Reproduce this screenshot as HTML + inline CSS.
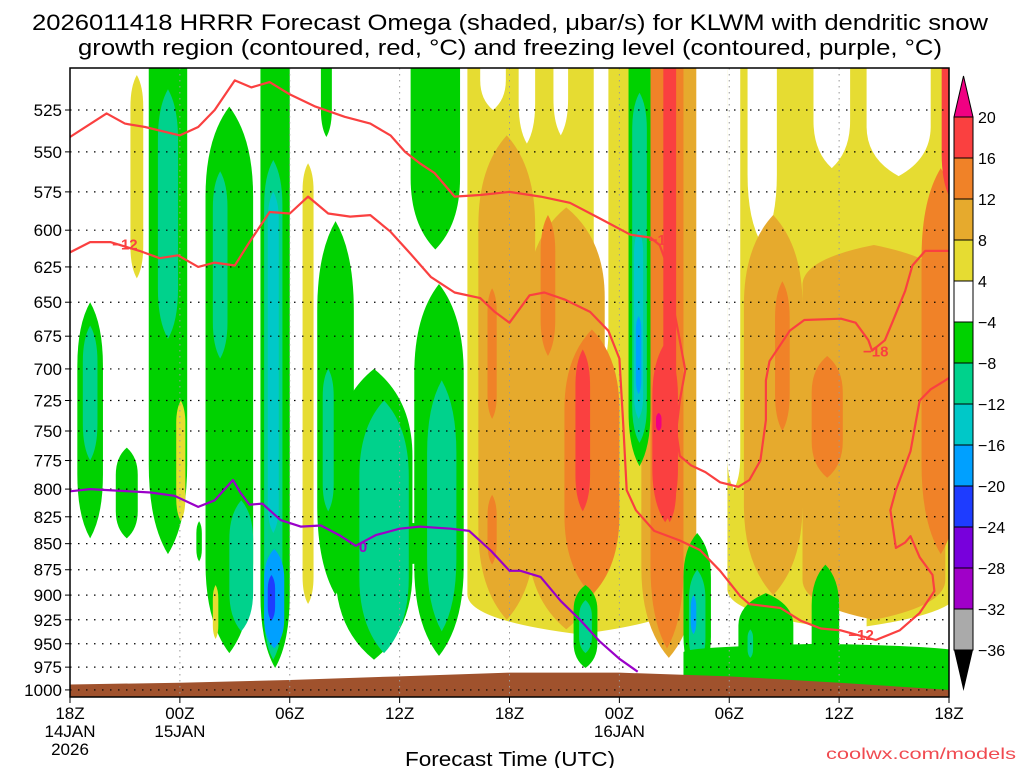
<!DOCTYPE html>
<html><head><meta charset="utf-8">
<style>
html,body{margin:0;padding:0;background:#fff;}
svg{display:block;font-family:"Liberation Sans",sans-serif;}
</style></head>
<body>
<svg id="chart" width="1024" height="768" viewBox="0 0 1024 768" xmlns="http://www.w3.org/2000/svg">
<defs><clipPath id="plotclip"><rect x="70" y="68" width="879" height="629"/></clipPath></defs>
<text x="32" y="30" font-size="22" textLength="956" lengthAdjust="spacingAndGlyphs">2026011418 HRRR Forecast Omega (shaded, μbar/s) for KLWM with dendritic snow</text>
<text x="78" y="55" font-size="22" textLength="864" lengthAdjust="spacingAndGlyphs">growth region (contoured, red, °C) and freezing level (contoured, purple, °C)</text>
<g id="plot" clip-path="url(#plotclip)"></g>
<g id="overlay"></g>
<g id="cbar"></g>
<text x="510" y="766" font-size="20" text-anchor="middle" textLength="210" lengthAdjust="spacingAndGlyphs">Forecast Time (UTC)</text>
<text x="826" y="759" font-size="16" fill="#f04a50" textLength="190" lengthAdjust="spacingAndGlyphs">coolwx.com/models</text>
</svg>
<script>
// ---- data ----
const pressureLevels = [525,550,575,600,625,650,675,700,725,750,775,800,825,850,875,900,925,950,975,1000];
const timeTickHours = [0,6,12,18,24,30,36,42,48];
const timeTickLabels = [["18Z","14JAN","2026"],["00Z","15JAN"],["06Z"],["12Z"],["18Z"],["00Z","16JAN"],["06Z"],["12Z"],["18Z"]];
const cbarLabels = ["20","16","12","8","4","\u22124","\u22128","\u221212","\u221216","\u221220","\u221224","\u221228","\u221232","\u221236"];
const cbarColors = ["#fa4040","#f08228","#e6aa2d","#e6dc32","#ffffff","#00d200","#00d28c","#00c8c8","#00a0ff","#1e3cff","#7800dc","#a000c8","#aaaaaa"];
const levelColor = {y:"#e6dc32",o:"#e6aa2d",O:"#f08228",r:"#fa4040",m:"#f00082",g:"#00d200",t:"#00d28c",c:"#00c8c8",l:"#00a0ff",b:"#1e3cff",w:"#ffffff"};
// omega regions: [hourStart, hourEnd, pressureTop, pressureBottom, level]
const omegaRegions = [
 [21.7,33.9,470,940,'y'],[22.4,23.8,470,525,'w'],[24.5,25.4,470,545,'w'],[26.4,27.2,470,540,'w'],[28.6,29.4,470,700,'w'],
 [35.9,48.6,470,935,'y'],[35.9,36.6,470,800,'w'],[37.0,38.6,470,610,'w'],[40.6,42.6,470,560,'w'],[43.5,47.0,470,565,'w'],[42.0,43.5,840,1010,'w'],[44.7,45.5,690,730,'w'],
 [22.3,25.4,540,925,'o'],[25.0,29.2,585,935,'o'],
 [22.8,23.3,640,740,'O'],[22.8,23.3,805,870,'O'],[25.7,26.5,590,690,'O'],[27.0,30.0,670,900,'O'],
 [27.6,28.4,685,820,'r'],
 [31.2,34.2,470,965,'o'],[31.7,33.5,470,955,'O'],[32.4,33.1,470,830,'r'],[31.8,33.2,680,830,'r'],[32.0,32.3,735,750,'m'],
 [36.8,40.0,590,900,'o'],[40.0,47.8,610,925,'o'],
 [38.5,39.3,635,750,'O'],[40.5,42.2,690,790,'O'],[46.5,48.6,560,860,'O'],[47.6,48.6,470,580,'r'],
 [0.4,1.8,650,845,'g'],[0.7,1.5,667,775,'t'],
 [2.5,3.7,764,845,'g'],
 [3.3,4.0,505,633,'y'],
 [4.3,6.4,470,860,'g'],[4.8,5.9,513,677,'t'],
 [5.8,6.3,725,829,'y'],
 [7.4,10.0,523,960,'g'],[7.8,8.6,562,692,'t'],[8.7,10.0,810,937,'t'],
 [6.9,7.2,829,867,'g'],[7.8,8.1,890,945,'y'],
 [10.4,12.0,470,976,'g'],[10.6,11.6,555,967,'t'],[10.8,11.4,575,840,'c'],[10.6,11.7,855,955,'l'],[10.8,11.2,880,926,'b'],
 [12.7,13.3,557,909,'y'],
 [13.7,14.3,470,541,'g'],
 [13.5,15.5,594,900,'g'],[14.5,18.7,700,967,'g'],[13.7,14.7,800,870,'g'],
 [18.8,21.5,637,963,'g'],[14.5,21.0,830,870,'g'],
 [13.8,14.4,700,820,'t'],[15.8,18.5,725,960,'t'],[19.5,21.1,709,937,'t'],
 [18.6,21.3,470,613,'g'],
 [30.5,31.7,470,780,'g'],[30.7,31.5,515,760,'t'],[30.8,31.3,600,740,'c'],[30.9,31.2,660,720,'l'],
 [27.5,28.8,890,976,'g'],[27.8,28.5,905,960,'t'],
 [33.5,35.0,840,990,'g'],[33.8,34.7,875,975,'t'],[33.9,34.2,900,940,'l'],
 [33.5,48.6,950,1012,'g'],[36.5,39.5,898,1012,'g'],[40.5,42.0,870,1012,'g'],[37.0,37.3,935,965,'t']
];
const groundHours = [0,6,12,18,24,30,36,42,48];
const groundPressure = [994,992,989,985,981,981,985,992,1000];
const dgzUpperHours = [0,2.0,3.0,4.1,6.0,7.0,7.9,9.0,9.9,10.9,12.0,13.4,15.0,16.4,17.5,18.3,19.1,19.9,21.0,22.4,24.0,25.7,27.3,28.9,30.6,31.7,32.2,32.7,32.9,33.2,33.6,33.3,33.1,33.3,33.9,34.7,35.5,36.5,37.1,37.7,38.0,38.0,38.2,39.3,40.1,42.1,42.9,43.6,43.8,44.5,44.9,45.6,46.0,46.7,47.8,48];
const dgzUpperTemp = [541,527,533,535,540,535,525,508,512,509,516,523,529,533,540,550,557,563,578,577,575,578,582,592,603,605,610,627,650,671,701,725,750,771,779,785,794,798,792,775,741,709,694,671,663,662,665,678,686,678,665,642,624,614,614,614];
const dgzLowerHours = [0,1.1,2.2,3.8,4.9,5.9,7.0,7.9,9.0,9.8,10.9,12.0,13.0,14.1,15.3,16.4,17.5,18.6,19.7,21.0,22.4,23.2,24.0,24.6,25.1,25.9,27.0,28.4,29.4,30.0,30.2,30.4,30.9,31.9,33.3,34.4,35.5,36.6,37.1,38.8,39.9,41.0,42.1,44.0,45.3,46.4,47.2,47.1,46.4,45.9,45.6,45.1,44.8,45.1,45.9,46.4,47.0,47.8,48];
const dgzLowerTemp = [615,608,608,614,619,617,625,622,624,608,588,589,578,589,591,590,601,616,632,643,647,657,665,654,645,643,648,657,671,692,741,801,819,838,847,856,876,901,909,913,926,934,936,946,936,918,896,880,863,843,849,854,819,801,767,725,716,709,707];
const frzHours = [0,1.1,4.4,5.7,7.0,7.9,8.9,9.3,9.8,10.5,10.9,11.5,12.6,13.7,14.7,15.6,16.7,18.0,19.1,20.8,21.8,23.0,24.0,24.6,25.7,26.8,27.9,28.9,30.0,31.0];
const frzPressure = [802,800,803,806,816,810,792,803,814,813,819,828,834,833,842,852,842,836,834,836,838,857,876,876,882,906,926,947,966,980];
const contourLabels = [["\u221212",3.0,609,"#fa4040"],["\u221218",32.3,606,"#fa4040"],["\u221218",44.0,686,"#fa4040"],["\u221212",43.2,940,"#fa4040"],["0",16.0,852,"#a000c8"]];

// ---- axes ----
const X0=70, X1=949, PX=(X1-X0)/48;
const xs = h => X0 + h*PX;
const ys = p => 110 + 900*Math.log(p/525);
const NS="http://www.w3.org/2000/svg";
function mk(tag, attrs, parent){const e=document.createElementNS(NS,tag);for(const k in attrs)e.setAttribute(k,attrs[k]);parent.appendChild(e);return e;}
const plot=document.getElementById('plot'), ov=document.getElementById('overlay'), cb=document.getElementById('cbar');

omegaRegions.forEach(r=>{
  const x0=xs(r[0]), x1=xs(r[1]), y0=ys(r[2]), y1=ys(r[3]);
  const w=x1-x0, h=y1-y0, cx=(x0+x1)/2;
  const t = (w > 100) ? Math.min(h*0.15, 40) : Math.min(h*0.3, w*2.5, 90);
  const topFlat = r[2] <= 480;
  let d;
  if (topFlat) d=`M${x0},${y0} L${x1},${y0}`;
  else d=`M${cx},${y0} Q${x1},${y0+t*0.35} ${x1},${y0+t}`;
  d+=` L${x1},${y1-t} Q${x1},${y1-t*0.35} ${cx},${y1} Q${x0},${y1-t*0.35} ${x0},${y1-t}`;
  if (topFlat) d+=' Z';
  else d+=` L${x0},${y0+t} Q${x0},${y0+t*0.35} ${cx},${y0} Z`;
  const el=mk('path',{d:d,fill:levelColor[r[4]]},plot);
  
  
});
// ground
let gd='M'+xs(0)+','+ys(1010);
groundHours.forEach((h,i)=>{gd+=' L'+xs(h)+','+ys(groundPressure[i]);});
gd+=' L'+xs(48)+','+ys(1010)+' Z';
const g=mk('path',{d:gd,fill:'#a0522d'},plot);


// grid
pressureLevels.forEach(p=>{
  const l=mk('line',{x1:X0,x2:X1,y1:ys(p),y2:ys(p),stroke:'#000','stroke-width':1.2,'stroke-dasharray':'1.5,6.5'},plot);
  
  
});
timeTickHours.forEach(h=>{
  const l=mk('line',{x1:xs(h),x2:xs(h),y1:68,y2:697,stroke:'#999','stroke-width':1,'stroke-dasharray':'1.5,4.5'},plot);
  
  
});
function line(hs,ps,color,name){
  const d=hs.map((h,i)=>(i?'L':'M')+xs(h).toFixed(1)+','+ys(ps[i]).toFixed(1)).join(' ');
  const e=mk('path',{d:d,fill:'none',stroke:color,'stroke-width':2.2,'stroke-linejoin':'round'},plot);
  
  
}
line(dgzUpperHours,dgzUpperTemp,'#fa4040','dgz-contour-upper');
line(dgzLowerHours,dgzLowerTemp,'#fa4040','dgz-contour-lower');
line(frzHours,frzPressure,'#9a00c8','freezing-level-contour');
contourLabels.forEach(c=>{
  const t=mk('text',{x:xs(c[1]),y:ys(c[2])+6,'font-size':15,'font-weight':'bold','text-anchor':'middle',fill:c[3]},plot);
  t.textContent=c[0];
  
  
});
// border
const b=mk('rect',{x:X0,y:68,width:X1-X0,height:629,fill:'none',stroke:'#000','stroke-width':1.5},ov);


pressureLevels.forEach(p=>{
  mk('line',{x1:X0-5,x2:X0,y1:ys(p),y2:ys(p),stroke:'#000','stroke-width':1},ov);
  const t=mk('text',{x:X0-8,y:ys(p)+6,'font-size':17,'text-anchor':'end'},ov);
  t.textContent=p;
  
  
});
timeTickHours.forEach((h,i)=>{
  mk('line',{x1:xs(h),x2:xs(h),y1:697,y2:703,stroke:'#000','stroke-width':1},ov);
  timeTickLabels[i].forEach((s,j)=>{
    const t=mk('text',{x:xs(h),y:719+j*18,'font-size':17,'text-anchor':'middle'},ov);
    t.textContent=s;
    
    
  });
});
// colorbar
const CBX=954, CBW=19, CB0=117, CBS=41;
cbarColors.forEach((c,i)=>{
  const r=mk('rect',{x:CBX,y:CB0+i*CBS,width:CBW,height:CBS,fill:c,stroke:'#000','stroke-width':1},cb);
  
  
});
mk('polygon',{points:`${CBX},${CB0} ${CBX+CBW},${CB0} ${CBX+CBW/2},76`,fill:'#f00082',stroke:'#000','stroke-width':1},cb);
mk('polygon',{points:`${CBX},${CB0+13*CBS} ${CBX+CBW},${CB0+13*CBS} ${CBX+CBW/2},691`,fill:'#000'},cb);
cbarLabels.forEach((s,i)=>{
  const t=mk('text',{x:978,y:CB0+i*CBS+6,'font-size':16},cb);
  t.textContent=s;
  
  
});
</script>
</body></html>
